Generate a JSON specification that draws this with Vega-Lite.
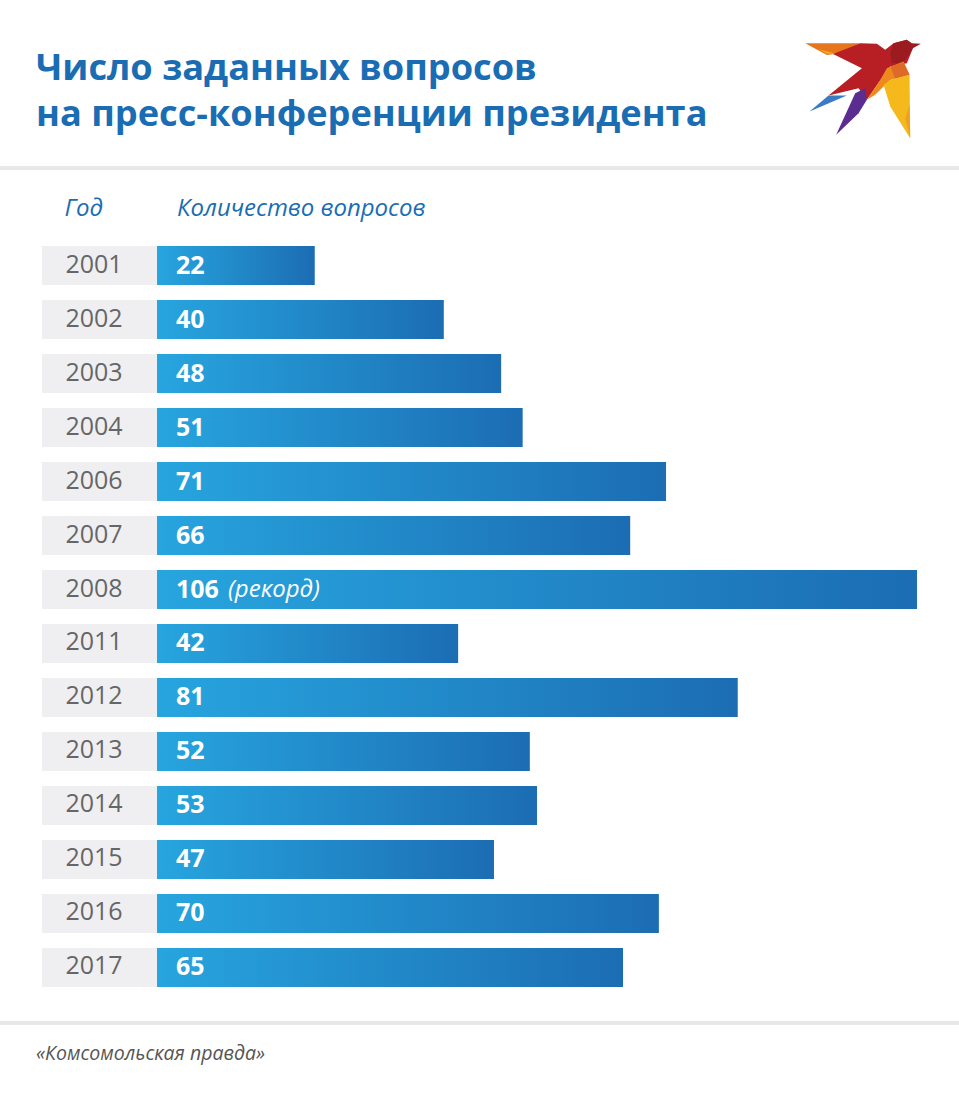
{
  "$schema": "https://vega.github.io/schema/vega-lite/v6.json",
  "width": 959,
  "height": 1093,
  "padding": 0,
  "autosize": "none",
  "background": "white",
  "config": {"view": {"stroke": null}, "text": {"font": "Open Sans"}},
  "title": {
    "text": ["Число заданных вопросов", "на пресс-конференции президента"],
    "anchor": "start",
    "frame": "group",
    "font": "Open Sans",
    "fontSize": 36.2,
    "fontWeight": "bold",
    "color": "#1a6db3",
    "lineHeight": 46,
    "baseline": "alphabetic",
    "offset": 0,
    "dx": 36,
    "dy": 162
  },
  "datasets": {
    "questions": [
      {"row": "2001", "value": 22},
      {"row": "2002", "value": 40},
      {"row": "2003", "value": 48},
      {"row": "2004", "value": 51},
      {"row": "2006", "value": 71},
      {"row": "2007", "value": 66},
      {"row": "2008", "value": 106, "note": "(рекорд)"},
      {"row": "2011", "value": 42},
      {"row": "2012", "value": 81},
      {"row": "2013", "value": 52},
      {"row": "2014", "value": 53},
      {"row": "2015", "value": 47},
      {"row": "2016", "value": 70},
      {"row": "2017", "value": 65}
    ]
  },
  "data": {"name": "questions"},
  "encoding": {
    "y": {
      "field": "row",
      "type": "nominal",
      "axis": null,
      "scale": {
        "domain": ["logo", "top", "header", "2001", "2002", "2003", "2004", "2006", "2007", "2008", "2011", "2012", "2013", "2014", "2015", "2016", "2017", "gap", "footer"],
        "range": [84, 1095],
        "paddingInner": 0.277,
        "paddingOuter": 0
      }
    }
  },
  "layer": [
    {
      "mark": {"type": "rule", "color": "#e8e8e8", "strokeWidth": 3},
      "encoding": {"y": {"datum": "top", "type": "nominal", "bandPosition": 0.76}}
    },
    {
      "mark": {"type": "rule", "color": "#e8e8e8", "strokeWidth": 3},
      "encoding": {"y": {"datum": "gap", "type": "nominal", "bandPosition": 0.54}}
    },
    {
      "mark": {"type": "bar", "color": "#efeff1"},
      "encoding": {
        "x": {"datum": -16.04, "type": "quantitative", "axis": null, "scale": {"domain": [-21.9, 111.86], "range": [0, 959], "nice": false, "zero": false}},
        "x2": {"datum": 0}
      }
    },
    {
      "mark": {
        "type": "bar",
        "color": {
          "gradient": "linear",
          "x1": 0, "y1": 0, "x2": 1, "y2": 0,
          "stops": [{"offset": 0, "color": "#27a5de"}, {"offset": 1, "color": "#1c6db3"}]
        }
      },
      "encoding": {"x": {"field": "value", "type": "quantitative"}}
    },
    {
      "mark": {"type": "text", "align": "center", "baseline": "middle", "fontSize": 25, "color": "#666666", "dy": -1},
      "encoding": {"x": {"datum": -8.79, "type": "quantitative"}, "text": {"field": "row"}}
    },
    {
      "mark": {"type": "text", "align": "left", "baseline": "middle", "fontSize": 25, "fontWeight": "bold", "color": "white"},
      "encoding": {"x": {"datum": 2.65, "type": "quantitative"}, "text": {"field": "value", "type": "quantitative"}}
    },
    {
      "transform": [{"filter": "datum.note"}],
      "mark": {"type": "text", "align": "left", "baseline": "middle", "fontSize": 24, "fontStyle": "italic", "color": "white"},
      "encoding": {"x": {"datum": 9.9, "type": "quantitative"}, "text": {"field": "note"}}
    },
    {
      "data": {"values": [{"row": "header", "label": "Год"}]},
      "mark": {"type": "text", "align": "left", "baseline": "middle", "fontSize": 24, "fontStyle": "italic", "color": "#1a6db3", "dy": -3},
      "encoding": {"x": {"datum": -12.9, "type": "quantitative"}, "text": {"field": "label"}}
    },
    {
      "data": {"values": [{"row": "header", "label": "Количество вопросов"}]},
      "mark": {"type": "text", "align": "left", "baseline": "middle", "fontSize": 24, "fontStyle": "italic", "color": "#1a6db3", "dy": -3},
      "encoding": {"x": {"datum": 2.79, "type": "quantitative"}, "text": {"field": "label"}}
    },
    {
      "data": {"values": [{"row": "footer", "label": "«Комсомольская правда»"}]},
      "mark": {"type": "text", "align": "left", "baseline": "middle", "fontSize": 19.5, "fontStyle": "italic", "color": "#555555", "dy": -2},
      "encoding": {"x": {"datum": -16.88, "type": "quantitative"}, "y": {"field": "row", "type": "nominal", "bandPosition": 0}, "text": {"field": "label"}}
    },
    {
      "data": {"values": [{"row": "logo"}]},
      "encoding": {
        "x": {"datum": 98.5, "type": "quantitative"},
        "y": {"field": "row", "type": "nominal", "bandPosition": 0.15}
      },
      "layer": [
        {"mark": {"type": "point", "filled": true, "opacity": 1, "size": 13456, "color": "#e5761c", "shape": "M-1 -.805L-.052 -.805L-.454 -.621L-.626 -.603Z"}},
        {"mark": {"type": "point", "filled": true, "opacity": 1, "size": 13456, "color": "#f4a81d", "shape": "M-.77 -.701L-.454 -.621L-.626 -.621Z"}},
        {"mark": {"type": "point", "filled": true, "opacity": 1, "size": 13456, "color": "#b81f24", "shape": "M-.52 -.62L-.052 -.805L.236 -.793L.379 -.69L.523 -.805L.753 -.862L.856 -.718L.753 -.46L.466 -.402L.25 -.1L.063 .172L-.08 -.029L-.598 .098L-.023 -.374Z"}},
        {"mark": {"type": "point", "filled": true, "opacity": 1, "size": 13456, "color": "#9c1b20", "shape": "M.523 -.805L.753 -.862L.839 -.805L.994 -.793L.856 -.718L.782 -.586L.667 -.46L.494 -.46L.466 -.632Z"}},
        {"mark": {"type": "point", "filled": true, "opacity": 1, "size": 13456, "color": "#ee8a1d", "shape": "M.695 -.489L.799 -.259L.466 -.172L.207 .086L.063 .172L.293 -.172L.408 -.374Z"}},
        {"mark": {"type": "point", "filled": true, "opacity": 1, "size": 13456, "color": "#dd6a26", "shape": "M.466 -.402L.695 -.471L.799 -.259L.552 -.19Z"}},
        {"mark": {"type": "point", "filled": true, "opacity": 1, "size": 13456, "color": "#f6b91c", "shape": "M.351 -.086L.466 -.172L.799 -.259L.81 .833L.466 .287Z"}},
        {"mark": {"type": "point", "filled": true, "opacity": 1, "size": 13456, "color": "#f0a020", "shape": "M.724 .489L.799 .259L.81 .833Z"}},
        {"mark": {"type": "point", "filled": true, "opacity": 1, "size": 13456, "color": "#5b2d91", "shape": "M.034 -.029L.063 .172L-.08 .402L-.466 .776L-.138 .057Z"}},
        {"mark": {"type": "point", "filled": true, "opacity": 1, "size": 13456, "color": "#3a7cc4", "shape": "M-.598 .098L-.282 .098L-.925 .374Z"}}
      ]
    }
  ]
}
